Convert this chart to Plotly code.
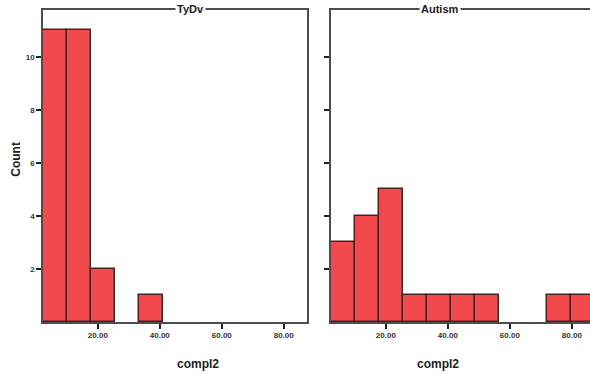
import plotly.graph_objects as go

# Data
panel_titles = ["TyDv", "Autism"]
bin_edges = [2.3, 10.05, 17.8, 25.55, 33.3, 41.05, 48.8, 56.55, 64.3, 72.05, 79.8, 87.55]
counts_tydv = [11, 11, 2, 0, 1, 0, 0, 0, 0, 0, 0]
counts_autism = [3, 4, 5, 1, 1, 1, 1, 0, 0, 1, 1]
x_ticks = [20, 40, 60, 80]
x_tick_labels = ["20.00", "40.00", "60.00", "80.00"]
y_ticks = [2, 4, 6, 8, 10]

centers = [(a + b) / 2 for a, b in zip(bin_edges[:-1], bin_edges[1:])]
widths = [b - a for a, b in zip(bin_edges[:-1], bin_edges[1:])]

bar_fill = "#f24a4c"
bar_edge = "#4a2222"
frame = "#4d4d4d"

fig = go.Figure()
for i, counts in enumerate([counts_tydv, counts_autism]):
    xs = [c for c, n in zip(centers, counts) if n > 0]
    ws = [w for w, n in zip(widths, counts) if n > 0]
    ys = [n for n in counts if n > 0]
    fig.add_trace(go.Bar(
        x=xs, y=ys, width=ws,
        marker=dict(color=bar_fill, line=dict(color=bar_edge, width=1.5)),
        xaxis="x" if i == 0 else "x2", yaxis="y" if i == 0 else "y2",
        showlegend=False, hoverinfo="skip",
    ))

total_w = 547
d1 = [0, (307 - 43) / total_w]
d2 = [(331 - 43) / total_w, 1]

axis_common = dict(
    showgrid=False, zeroline=False, showline=True, linecolor=frame, linewidth=1.5,
    ticks="outside", ticklen=5, tickwidth=2, tickcolor="#222",
    automargin=False,
)
xfont = dict(family="Liberation Sans", size=8, color="#333", weight="bold")
tfont = dict(family="Liberation Sans", size=11, color="#222", weight="bold")
lfont = dict(family="Liberation Sans", size=12, color="#222", weight="bold")

fig.update_layout(
    width=590, height=375,
    margin=dict(l=43, r=0, t=10, b=53, autoexpand=False),
    paper_bgcolor="white", plot_bgcolor="white",
    bargap=0,
    xaxis=dict(domain=d1, range=[bin_edges[0], 87.5], tickvals=x_ticks, ticktext=x_tick_labels,
               tickfont=xfont, mirror=True, **axis_common),
    xaxis2=dict(domain=d2, range=[bin_edges[0], bin_edges[0] + (590 - 331) / 3.1],
                tickvals=x_ticks, ticktext=x_tick_labels, tickfont=xfont, mirror=True, **axis_common),
    yaxis=dict(range=[0, 11.77], tickvals=y_ticks, tickfont=xfont, anchor="x", mirror=True, **axis_common),
    yaxis2=dict(range=[0, 11.77], tickvals=y_ticks, showticklabels=False, anchor="x2", mirror=False, **axis_common),
    annotations=[
        dict(text=panel_titles[0], x=(d1[0] + d1[1]) / 2, y=1, xref="paper", yref="paper",
             yanchor="middle", showarrow=False, font=tfont, bgcolor="white", yshift=1),
        dict(text=panel_titles[1], x=(d2[0] + d2[1]) / 2, y=1, xref="paper", yref="paper",
             yanchor="middle", showarrow=False, font=tfont, bgcolor="white", yshift=1),
        dict(text="compl2", x=(d1[0] + d1[1]) / 2, y=-0.105, xref="paper", yref="paper",
             yanchor="top", showarrow=False, font=lfont),
        dict(text="compl2", x=(d2[0] + d2[1]) / 2, y=-0.105, xref="paper", yref="paper",
             yanchor="top", showarrow=False, font=lfont),
        dict(text="Count", x=-27 / 547, y=0.52, xref="paper", yref="paper", xanchor="center",
             textangle=-90, showarrow=False, font=lfont),
    ],
)

fig.write_html("out.html", config={"displayModeBar": False},
               post_script="document.body.style.margin='0';document.body.style.overflow='hidden';")
